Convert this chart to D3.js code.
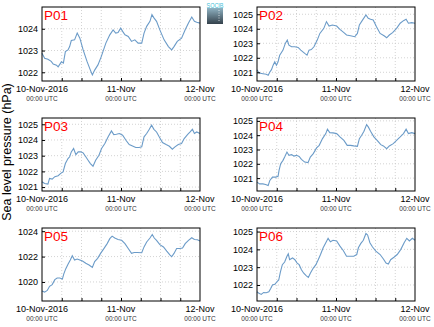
<!DOCTYPE html>
<html><head><meta charset="utf-8">
<script src="https://cdn.jsdelivr.net/npm/d3@7"></script>
<style>
html,body{margin:0;padding:0;background:#fff;}
text{font-family:"Liberation Sans",Arial,Helvetica,sans-serif;}
</style></head>
<body><svg id="chart" width="434" height="327"></svg>
<script>
// ---- data ----
const panelNames = ["P01","P02","P03","P04","P05","P06"];
const xTickHours = [0, 24, 48];
const xTickLabels = ["10-Nov-2016", "11-Nov", "12-Nov"];
const xTickSubLabels = ["00:00 UTC", "00:00 UTC", "00:00 UTC"];
const yLabel = "Sea level pressure (hPa)";

const hours01 = [0,0.8,1.8,2.8,3.4,4.4,4.9,5.9,6.5,7.1,7.9,8.4,8.9,9.9,10.7,11.5,12.5,13.7,14.7,15.3,16,17,18,19.4,20.6,21.6,22.4,23.1,23.9,24.5,25.2,26.2,27.2,28.2,29.2,30.3,31,31.8,32.8,33.4,34,34.8,35.8,37.1,38.4,39.4,40.1,41.1,42.4,43.5,44.5,45.5,46.3,47,48];
const values01 = [1022.87,1022.64,1022.6,1022.5,1022.38,1022.33,1022.25,1022.48,1022.42,1022.95,1023.03,1023.18,1023.46,1023.49,1023.8,1023.57,1023.03,1022.49,1022.1,1021.88,1022.1,1022.34,1022.72,1023.34,1023.72,1023.95,1023.8,1023.83,1024.03,1023.88,1023.72,1023.65,1023.42,1023.49,1023.34,1023.34,1023.8,1024.11,1024.34,1024.65,1024.5,1024.34,1023.95,1023.49,1023.18,1023.03,1023.18,1023.42,1023.57,1023.95,1024.26,1024.54,1024.34,1024.3,1024.26];

const hours02 = [0,0.6,1.8,2.8,3.4,3.9,4.4,4.9,5.4,5.9,6.4,6.9,7.9,8.6,9.2,9.7,10.5,11.5,12.5,13.3,14.5,15.2,15.8,16.5,17.3,18.3,19.1,20.3,21.1,21.9,22.9,24.2,25.2,26.4,27.2,28.4,29.7,30.5,31.1,32.1,33.1,33.8,34.5,35.3,36.3,37.4,38.6,39.4,40.2,41.2,42.4,43.5,44.5,45.3,46,47,48];
const values02 = [1021.18,1020.95,1020.9,1020.86,1020.79,1021.02,1021.18,1021.49,1021.72,1021.49,1021.72,1022.18,1022.53,1022.99,1023.22,1022.87,1022.76,1022.76,1022.71,1022.53,1022.3,1022.18,1022.53,1022.57,1022.76,1023.22,1023.68,1024.03,1024.49,1024.19,1024.26,1024.19,1023.96,1023.73,1023.57,1023.52,1023.45,1023.68,1024.26,1024.61,1024.95,1024.72,1024.65,1024.61,1024.14,1023.68,1023.52,1023.38,1023.57,1023.73,1024.03,1024.38,1024.56,1024.65,1024.38,1024.42,1024.38];

const hours03 = [0,0.8,1.8,2.3,3.1,3.9,4.9,5.7,6.4,7.1,7.9,8.4,8.9,9.6,10.3,11,11.8,12.5,13.3,14,14.7,15.5,16.3,17.3,18.1,19.1,20.1,21.1,21.8,22.6,23.5,24.5,25.5,26.5,27.5,28.5,29.5,30.3,31,31.8,32.6,33.3,34,34.8,35.6,36.6,37.7,38.7,39.6,40.4,41.4,42.4,43.2,44.2,45,45.7,46.3,47,48];
const values03 = [1021.34,1021.23,1021.19,1021.55,1021.51,1021.66,1021.72,1021.87,1021.97,1022.5,1022.82,1022.93,1023.24,1023.46,1023.07,1023.24,1023.24,1023.18,1022.93,1022.71,1022.5,1022.33,1022.71,1023.03,1023.46,1023.77,1024.2,1024.58,1024.34,1024.37,1024.41,1024.3,1023.98,1023.71,1023.62,1023.52,1023.52,1023.56,1024.2,1024.41,1024.68,1024.94,1024.68,1024.51,1024.2,1023.84,1023.71,1023.6,1023.41,1023.56,1023.71,1023.77,1024.09,1024.34,1024.51,1024.68,1024.41,1024.51,1024.41];

const hours04 = [0,0.8,1.8,2.6,3.4,3.9,4.7,5.7,6.4,6.7,7.2,7.9,8.4,9.1,9.7,10.5,11.2,12,12.8,13.5,14.5,15.5,16.2,17.1,18.1,18.9,19.9,20.9,21.4,22.1,23.1,24.2,25.2,26.4,27.4,28.4,29.4,30.5,31.1,31.8,32.5,33.3,33.8,34.5,35.5,36.5,37.6,38.4,39.4,40.2,41.4,42.4,43.5,44.5,45.3,46,47,48];
const values04 = [1020.72,1020.6,1020.6,1020.56,1020.49,1020.84,1021.07,1021.07,1021.12,1021.54,1022.01,1022.24,1022.47,1022.82,1022.59,1022.64,1022.54,1022.59,1022.52,1022.31,1022.12,1022.08,1022.47,1022.71,1023.11,1023.29,1023.76,1024.11,1024.42,1024.18,1024.16,1024.11,1023.88,1023.64,1023.29,1023.29,1023.25,1023.22,1023.76,1023.99,1024.27,1024.74,1024.58,1024.27,1023.88,1023.64,1023.34,1023.25,1023.06,1023.25,1023.41,1023.64,1023.88,1024.11,1024.42,1024.11,1024.18,1024.11];

const hours05 = [0,0.8,1.6,2.3,3.1,3.9,4.6,5.4,6.2,6.6,7.2,7.9,8.6,9.2,9.9,10.7,11.5,12.3,13.3,14.3,15.3,16,16.9,17.8,18.8,19.8,20.6,21.3,22.1,23.1,24.2,25.2,26.2,27.2,28,28.9,30.3,31,31.8,32.8,33.5,34.1,34.8,35.8,36.9,37.9,38.9,39.4,40.1,40.9,41.9,42.7,43.5,44.5,45.5,46.3,47.2,48];
const values05 = [1019.28,1019.2,1019.33,1019.66,1019.79,1020.18,1020.31,1020.31,1020.23,1020.62,1021.03,1021.39,1021.73,1022.06,1021.73,1021.81,1021.73,1021.65,1021.47,1021.34,1021.14,1021.6,1021.86,1022.25,1022.63,1023.02,1023.41,1023.61,1023.46,1023.35,1023.28,1023.02,1022.63,1022.25,1022.32,1022.32,1022.3,1022.76,1023.15,1023.46,1023.74,1023.46,1023.28,1022.94,1022.76,1022.43,1022.12,1021.99,1022.25,1022.63,1022.63,1022.68,1023.02,1023.28,1023.48,1023.35,1023.33,1023.23];

const hours06 = [0,0.6,1.3,2,2.8,3.6,4.2,4.7,5.4,6.1,6.6,7.1,7.7,8.4,9.1,9.5,9.9,10.8,11.5,12.2,12.8,13.5,14.2,15,15.6,16.2,17.1,17.9,18.6,19.3,20.1,20.9,21.6,22.3,23.1,24.2,25.2,26.2,27.2,28.2,29.4,30.3,30.8,31.5,32.3,33.1,33.6,34.3,35.1,36.1,37.4,38.4,39.2,39.9,40.6,41.6,42.6,43.7,44.7,45.5,46.3,47.2,48];
const values06 = [1021.62,1021.53,1021.47,1021.58,1021.56,1021.62,1021.81,1022,1022.04,1022.19,1022.28,1022.72,1023.14,1023.29,1023.61,1023.75,1023.42,1023.52,1023.42,1023.23,1023.14,1022.85,1022.66,1022.51,1022.42,1022.66,1022.95,1023.14,1023.42,1023.71,1024.09,1024.37,1024.62,1024.43,1024.51,1024.47,1024.18,1023.94,1023.61,1023.61,1023.61,1023.71,1024.09,1024.32,1024.51,1024.89,1024.81,1024.37,1024.13,1023.9,1023.71,1023.46,1023.23,1023.18,1023.42,1023.56,1023.71,1024,1024.37,1024.62,1024.47,1024.62,1024.51];

const yDomains = [[1021.6,1025.0],[1020.4,1025.5],[1020.75,1025.4],[1020.1,1025.2],[1018.5,1024.25],[1021.1,1025.2]];
const yTicks = [[1022,1023,1024],[1021,1022,1023,1024,1025],[1021,1022,1023,1024,1025],[1021,1022,1023,1024,1025],[1020,1022,1024],[1022,1023,1024,1025]];

const allHours = [hours01,hours02,hours03,hours04,hours05,hours06];
const allValues = [values01,values02,values03,values04,values05,values06];

// ---- layout ----
const svg = d3.select("#chart");
const colX = [[42,200],[257,415]];
const rowY = [[7,81],[118,191],[228,301]];
const gridHours = d3.range(6, 48, 6);

panelNames.forEach((name, i) => {
  const c = i % 2, r = Math.floor(i / 2);
  const [x0, x1] = colX[c], [y0, y1] = rowY[r];
  const x = d3.scaleLinear().domain([0, 48]).range([x0, x1]);
  const y = d3.scaleLinear().domain(yDomains[i]).range([y1, y0]);
  const g = svg.append("g");

  // grid
  g.selectAll(".vg").data(gridHours).join("line")
    .attr("x1", d => x(d)).attr("x2", d => x(d)).attr("y1", y0).attr("y2", y1)
    .attr("stroke", "#c8c8c8").attr("stroke-width", 0.8).attr("stroke-dasharray", "1,2");
  g.selectAll(".hg").data(yTicks[i]).join("line")
    .attr("x1", x0).attr("x2", x1).attr("y1", d => y(d)).attr("y2", d => y(d))
    .attr("stroke", "#c8c8c8").attr("stroke-width", 0.8).attr("stroke-dasharray", "1,2");

  // line
  const pts = allHours[i].map((h, k) => [h, allValues[i][k]]);
  g.append("path").datum(pts)
    .attr("fill", "none").attr("stroke", "#6b9bc8").attr("stroke-width", 1.1)
    .attr("d", d3.line().x(d => x(d[0])).y(d => y(d[1])));

  // y axis
  const ya = g.append("g").attr("transform", `translate(${x0},0)`)
    .call(d3.axisLeft(y).tickValues(yTicks[i]).tickSize(3).tickFormat(d3.format("d")));
  ya.select(".domain").remove();
  ya.selectAll("line").attr("x2", 3).attr("stroke", "#000");
  ya.selectAll("text").attr("x", -4).attr("font-size", 9).attr("fill", "#000")
    .style("font-family", "'Liberation Sans',Arial,sans-serif");

  // x axis
  const xa = g.append("g").attr("transform", `translate(0,${y1})`)
    .call(d3.axisBottom(x).tickValues(gridHours).tickSize(0).tickFormat(""));
  xa.select(".domain").remove();
  xa.selectAll("line").attr("y2", -3).attr("stroke", "#000");
  const lab = g.selectAll(".xl").data(xTickHours).join("g")
    .attr("transform", d => `translate(${x(d)},${y1})`);
  lab.append("text").attr("y", 11).attr("text-anchor", "middle")
    .attr("font-size", 9).attr("fill", "#000").text((d, k) => xTickLabels[k]);
  lab.append("text").attr("y", 20).attr("text-anchor", "middle")
    .attr("font-size", 6.5).attr("fill", "#333").text((d, k) => xTickSubLabels[k]);

  // frame
  g.append("rect").attr("x", x0).attr("y", y0).attr("width", x1 - x0).attr("height", y1 - y0)
    .attr("fill", "none").attr("stroke", "#000").attr("stroke-width", 1);

  // name
  g.append("text").attr("x", x0 + 2).attr("y", y0 + 13).attr("font-size", 13.5)
    .attr("fill", "#ff0000").text(name);
});

// y label
svg.append("text").attr("transform", "translate(11,152) rotate(-90)")
  .attr("text-anchor", "middle").attr("font-size", 12.5).attr("fill", "#000").text(yLabel);

// logo
const defs = svg.append("defs");
const grad = defs.append("linearGradient").attr("id", "lg").attr("x1", 0).attr("y1", 0).attr("x2", 0).attr("y2", 1);
grad.append("stop").attr("offset", "0%").attr("stop-color", "#8fb2c2");
grad.append("stop").attr("offset", "100%").attr("stop-color", "#34414b");
svg.append("rect").attr("x", 207).attr("y", 8).attr("width", 16).attr("height", 16).attr("fill", "url(#lg)");
svg.append("line").attr("x1", 219).attr("x2", 219).attr("y1", 10).attr("y2", 22)
  .attr("stroke", "#fff").attr("stroke-width", 0.7).attr("stroke-dasharray", "1,1.5");
svg.append("text").attr("x", 215).attr("y", 7.5).attr("text-anchor", "middle")
  .attr("font-size", 7.5).attr("fill", "#3fc0d8").attr("textLength", 17)
  .attr("lengthAdjust", "spacingAndGlyphs").text("SOCIB");
</script></body></html>
